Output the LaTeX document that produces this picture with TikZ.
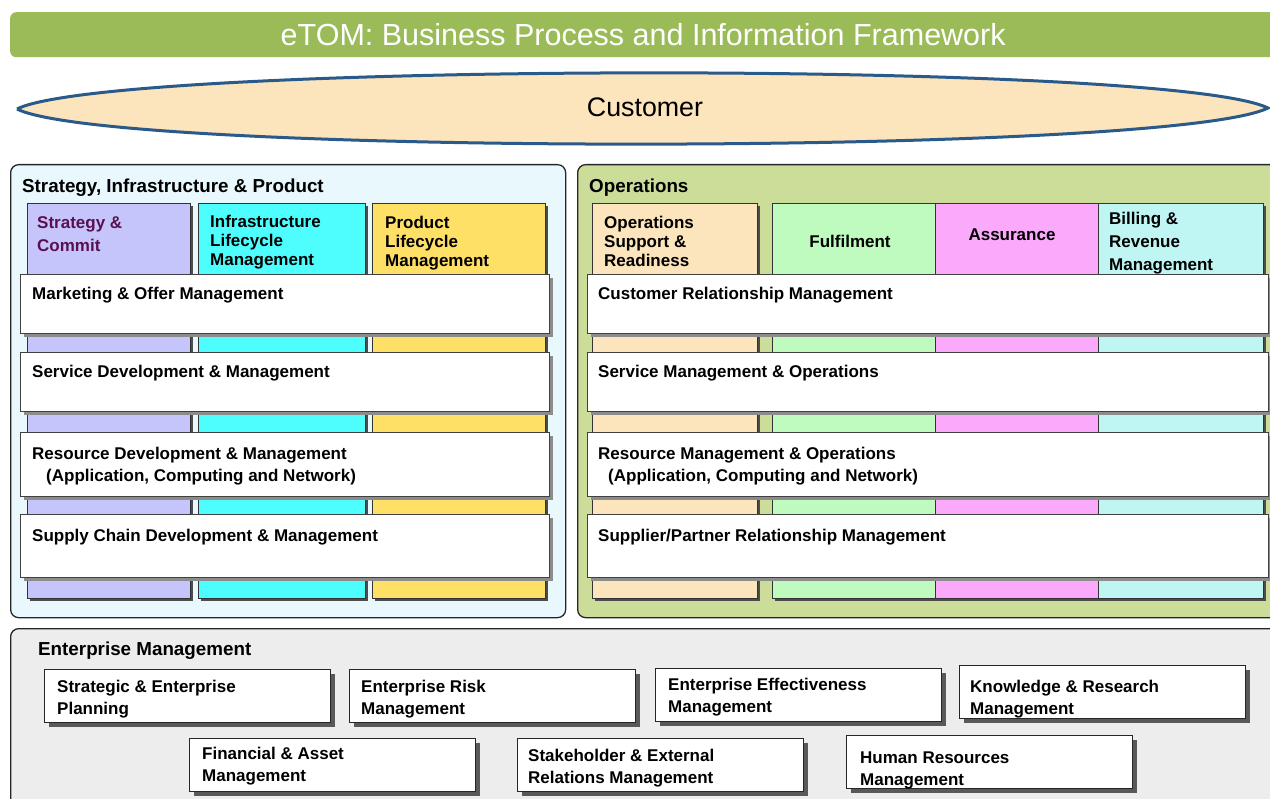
\documentclass[tikz,border=0pt]{standalone}
\usepackage{fontspec}
\setmainfont{Liberation Sans}
\usepackage{tikz}
\usetikzlibrary{shadows,positioning}

\definecolor{titlegreen}{HTML}{9BBB59}
\definecolor{custfill}{HTML}{FCE4BC}
\definecolor{custline}{HTML}{2A5A8A}
\definecolor{sipfill}{HTML}{E8F8FC}
\definecolor{opsfill}{HTML}{CBDD98}
\definecolor{emfill}{HTML}{EDEDED}
\definecolor{stratcol}{HTML}{C5C5FC}
\definecolor{strattext}{HTML}{5A1050}
\definecolor{infracol}{HTML}{4EFEFE}
\definecolor{prodcol}{HTML}{FFE066}
\definecolor{osrcol}{HTML}{FCE4BC}
\definecolor{fulcol}{HTML}{BFFBBF}
\definecolor{asrcol}{HTML}{FBA9FB}
\definecolor{brmcol}{HTML}{BFF5F3}

\begin{document}
\begin{tikzpicture}[x=1pt,y=-1pt,
  panel/.style={draw=black!85,line width=1.3pt,rounded corners=8pt,anchor=north west,inner sep=0pt},
  column/.style={draw=black!80,line width=0.8pt,anchor=north west,inner sep=0pt,
    drop shadow={shadow xshift=3pt,shadow yshift=-3pt,fill=black!70,opacity=1}},
  bar/.style={draw=black!75,fill=white,line width=0.8pt,anchor=north west,inner sep=0pt,
    drop shadow={shadow xshift=4pt,shadow yshift=-4pt,fill=black!45,opacity=1}},
  embox/.style={draw=black!85,fill=white,line width=0.9pt,anchor=north west,inner sep=0pt,
    minimum width=286pt,minimum height=53pt,
    drop shadow={shadow xshift=5pt,shadow yshift=-5pt,fill=black!65,opacity=1}},
  lbl/.style={font=\bfseries\fontsize{17}{22}\selectfont,inner sep=0pt,align=left,anchor=north west},
  head/.style={font=\bfseries\fontsize{18.8}{22}\selectfont,inner sep=0pt,anchor=west}]

  \useasboundingbox (0,0) rectangle (1270,799);

  % title and customer
  \node[fill=titlegreen,rounded corners=6pt,minimum width=1266pt,minimum height=45pt,inner sep=0pt,
    anchor=north west,text=white,font=\fontsize{30.5}{32}\selectfont] (title) at (10,12)
    {eTOM: Business Process and Information Framework};
  \draw[custline,line width=3pt,fill=custfill]
    (17,109) .. controls (110,62) and (1170,60) .. (1268,108)
    .. controls (1170,156) and (110,156) .. (17,109);
  \node[font=\fontsize{26.8}{30}\selectfont,inner sep=0pt] (cust) at (645,107) {Customer};

  % panels
  \node[panel,fill=sipfill,minimum width=555pt,minimum height=453pt] (sip) at (10,164) {};
  \node[panel,fill=opsfill,minimum width=720pt,minimum height=453pt] (ops) at (577,164) {};
  \node[panel,fill=emfill,minimum width=1290pt,minimum height=200pt] (em) at (10,628) {};
  \node[head] (sip-t) at (22,188) {Strategy, Infrastructure \& Product};
  \node[head] (ops-t) at (589,188) {Operations};
  \node[head] (em-t) at (38,651) {Enterprise Management};

  % vertical columns
  \node[column,fill=stratcol,minimum width=163pt,minimum height=395pt] (sc) at (27,203) {};
  \node[column,fill=infracol,minimum width=167pt,minimum height=395pt] (ilm) at (198,203) {};
  \node[column,fill=prodcol,minimum width=173pt,minimum height=395pt] (plm) at (372,203) {};
  \node[column,fill=osrcol,minimum width=165pt,minimum height=395pt] (osr) at (592,203) {};
  \node[column,fill=fulcol,minimum width=163pt,minimum height=395pt] (ful) at (772,203) {};
  \node[column,fill=asrcol,minimum width=163pt,minimum height=395pt] (asr) at (935,203) {};
  \node[column,fill=brmcol,minimum width=165pt,minimum height=395pt] (brm) at (1098,203) {};

  \node[lbl,text=strattext,font=\bfseries\fontsize{17}{23}\selectfont] (sc-t) at (37,216) {Strategy \&\\Commit};
  \node[lbl,font=\bfseries\fontsize{17}{19}\selectfont] (ilm-t) at (210,215) {Infrastructure\\Lifecycle\\Management};
  \node[lbl,font=\bfseries\fontsize{17}{19}\selectfont] (plm-t) at (385,216) {Product\\Lifecycle\\Management};
  \node[lbl,font=\bfseries\fontsize{17}{19}\selectfont] (osr-t) at (604,216) {Operations\\Support \&\\Readiness};
  \node[lbl,anchor=center] (ful-t) at (850,241) {Fulfilment};
  \node[lbl,anchor=center] (asr-t) at (1012,235) {Assurance};
  \node[lbl,font=\bfseries\fontsize{17}{23}\selectfont] (brm-t) at (1109,212) {Billing \&\\Revenue\\Management};

  % horizontal bars
  \node[bar,minimum width=529pt,minimum height=59pt] (mom) at (20,274) {};
  \node[bar,minimum width=529pt,minimum height=59pt] (sdm) at (20,352) {};
  \node[bar,minimum width=529pt,minimum height=64pt] (rdm) at (20,432) {};
  \node[bar,minimum width=529pt,minimum height=63pt] (scdm) at (20,514) {};
  \node[bar,minimum width=681pt,minimum height=59pt] (crm) at (587,274) {};
  \node[bar,minimum width=681pt,minimum height=59pt] (smo) at (587,352) {};
  \node[bar,minimum width=681pt,minimum height=64pt] (rmo) at (587,432) {};
  \node[bar,minimum width=681pt,minimum height=63pt] (sprm) at (587,514) {};

  \node[lbl] (mom-t) at (32,287) {Marketing \& Offer Management};
  \node[lbl] (sdm-t) at (32,365) {Service Development \& Management};
  \node[lbl] (rdm-t) at (32,447) {Resource Development \& Management\\\hspace*{14pt}(Application, Computing and Network)};
  \node[lbl] (scdm-t) at (32,529) {Supply Chain Development \& Management};
  \node[lbl] (crm-t) at (598,287) {Customer Relationship Management};
  \node[lbl] (smo-t) at (598,365) {Service Management \& Operations};
  \node[lbl] (rmo-t) at (598,447) {Resource Management \& Operations\\\hspace*{10pt}(Application, Computing and Network)};
  \node[lbl] (sprm-t) at (598,529) {Supplier/Partner Relationship Management};

  % enterprise management boxes
  \node[embox] (sep) at (44,669) {};
  \node[embox] (erm) at (349,669) {};
  \node[embox] (eem) at (655,668) {};
  \node[embox] (krm) at (959,665) {};
  \node[embox] (fam) at (189,738) {};
  \node[embox] (serm) at (517,738) {};
  \node[embox] (hrm) at (846,735) {};

  \node[lbl] (sep-t) at (57,680) {Strategic \& Enterprise\\Planning};
  \node[lbl] (erm-t) at (361,680) {Enterprise Risk\\Management};
  \node[lbl] (eem-t) at (668,678) {Enterprise Effectiveness\\Management};
  \node[lbl] (krm-t) at (970,680) {Knowledge \& Research\\Management};
  \node[lbl] (fam-t) at (202,747) {Financial \& Asset\\Management};
  \node[lbl] (serm-t) at (528,749) {Stakeholder \& External\\Relations Management};
  \node[lbl] (hrm-t) at (860,752) {Human Resources\\Management};
\end{tikzpicture}
\end{document}
